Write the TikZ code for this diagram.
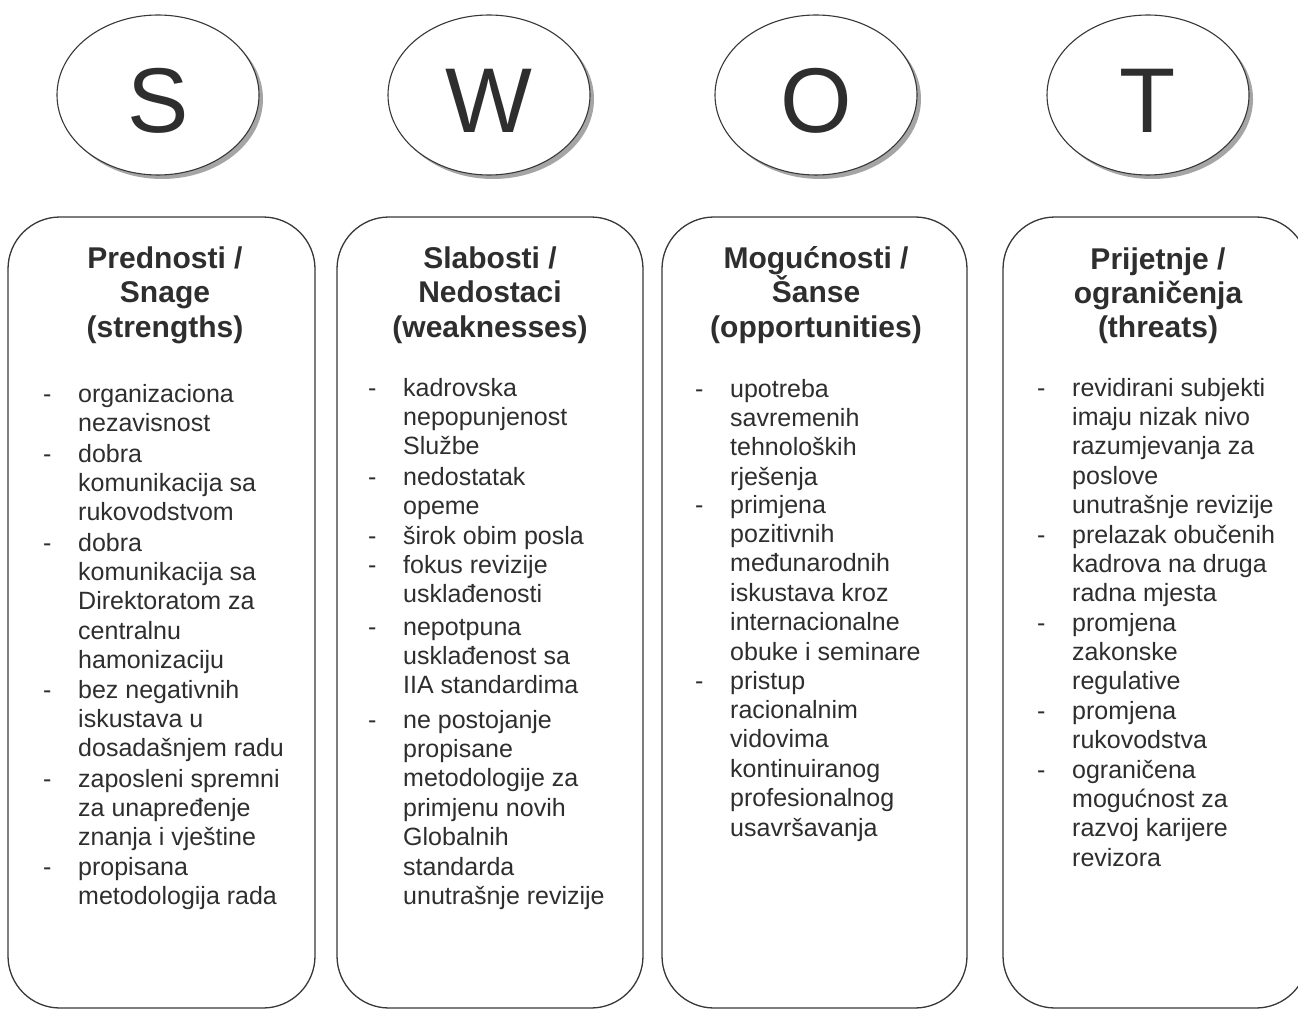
\documentclass[tikz,border=0pt]{standalone}
\usepackage{fontspec}
\setmainfont{Liberation Sans}
\usetikzlibrary{shapes.geometric,shadows}
\definecolor{ink}{HTML}{2E2E2E}
\definecolor{rule}{HTML}{383838}

% one bulleted entry: a dash column followed by the entry's lines
\newcommand\swotentry[1]{\begin{tabular}[t]{@{}p{35pt}@{}l@{}}#1\end{tabular}}
% centred multi-line column heading
\newcommand\swothead[1]{\begin{tabular}[t]{@{}c@{}}#1\end{tabular}}

\begin{document}
\begin{tikzpicture}[x=1pt,y=-1pt,
  letterdisc/.style={ellipse, draw=rule, line width=1.1pt, fill=white,
    minimum width=202pt, minimum height=160pt, inner sep=0pt, text=ink,
    text height=76pt, text depth=0pt,
    font=\fontsize{92}{92}\selectfont,
    drop shadow={shadow xshift=4pt, shadow yshift=-4pt, fill=black!50, opacity=0.7}},
  column/.style={draw=rule, line width=1.3pt, rounded corners=52pt,
    minimum height=791pt, inner sep=0pt},
  headtext/.style={anchor=base, inner sep=0pt, text=ink,
    font=\bfseries\fontsize{30}{34.5}\selectfont},
  entrytext/.style={anchor=base west, inner sep=0pt, text=ink,
    font=\fontsize{25}{29.4}\selectfont}]

\clip (0,0) rectangle (1298,1011);
\fill[white] (0,0) rectangle (1298,1011);

% letter discs
\node[letterdisc] (eS) at (158,95)  {S};
\node[letterdisc] (eW) at (489,95)  {W};
\node[letterdisc] (eO) at (816,95)  {O};
\node[letterdisc] (eT) at (1148,95) {T};

% columns
\node[column, minimum width=307pt] (cS) at (161.5,612.5) {};
\node[column, minimum width=306pt] (cW) at (490,612.5)   {};
\node[column, minimum width=305pt] (cO) at (814.5,612.5) {};
\node[column, minimum width=305pt] (cT) at (1155.5,612.5) {};

% headings
\node[headtext] (hS) at (165,268)  {\swothead{Prednosti /\\Snage\\(strengths)}};
\node[headtext] (hW) at (490,268)  {\swothead{Slabosti /\\Nedostaci\\(weaknesses)}};
\node[headtext] (hO) at (816,268)  {\swothead{Mogućnosti /\\\smash{Šanse}\\(opportunities)}};
\node[headtext] (hT) at (1158,269) {\swothead{Prijetnje /\\ograničenja\\(threats)}};

% strengths
\node[entrytext] (s1) at (43,402) {\swotentry{-&organizaciona\\&nezavisnost}};
\node[entrytext] (s2) at (43,462) {\swotentry{-&dobra\\&komunikacija sa\\&rukovodstvom}};
\node[entrytext] (s3) at (43,551) {\swotentry{-&dobra\\&komunikacija sa\\&Direktoratom za\\&centralnu\\&hamonizaciju}};
\node[entrytext] (s4) at (43,698) {\swotentry{-&bez negativnih\\&iskustava u\\&dosadašnjem radu}};
\node[entrytext] (s5) at (43,787) {\swotentry{-&zaposleni spremni\\&za unapređenje\\&znanja i vještine}};
\node[entrytext] (s6) at (43,875) {\swotentry{-&propisana\\&metodologija rada}};

% weaknesses
\node[entrytext] (w1) at (368,396) {\swotentry{-&kadrovska\\&nepopunjenost\\&Službe}};
\node[entrytext] (w2) at (368,485) {\swotentry{-&nedostatak\\&opeme}};
\node[entrytext] (w3) at (368,544) {\swotentry{-&širok obim posla}};
\node[entrytext] (w4) at (368,573) {\swotentry{-&fokus revizije\\&usklađenosti}};
\node[entrytext] (w5) at (368,635) {\swotentry{-&nepotpuna\\&usklađenost sa\\&IIA standardima}};
\node[entrytext] (w6) at (368,728) {\swotentry{-&ne postojanje\\&propisane\\&metodologije za\\&primjenu novih\\&Globalnih\\&standarda\\&unutrašnje revizije}};

% opportunities
\node[entrytext] (o1) at (695,397) {\swotentry{-&upotreba\\&savremenih\\&tehnoloških\\&rješenja}};
\node[entrytext] (o2) at (695,513) {\swotentry{-&primjena\\&pozitivnih\\&međunarodnih\\&iskustava kroz\\&internacionalne\\&obuke i seminare}};
\node[entrytext] (o3) at (695,689) {\swotentry{-&pristup\\&racionalnim\\&vidovima\\&kontinuiranog\\&profesionalnog\\&usavršavanja}};

% threats
\node[entrytext] (t1) at (1037,396) {\swotentry{-&revidirani subjekti\\&imaju nizak nivo\\&razumjevanja za\\&poslove\\&unutrašnje revizije}};
\node[entrytext] (t2) at (1037,543) {\swotentry{-&prelazak obučenih\\&kadrova na druga\\&radna mjesta}};
\node[entrytext] (t3) at (1037,631) {\swotentry{-&promjena\\&zakonske\\&regulative}};
\node[entrytext] (t4) at (1037,719) {\swotentry{-&promjena\\&rukovodstva}};
\node[entrytext] (t5) at (1037,778) {\swotentry{-&ograničena\\&mogućnost za\\&razvoj karijere\\&revizora}};
\end{tikzpicture}
\end{document}
